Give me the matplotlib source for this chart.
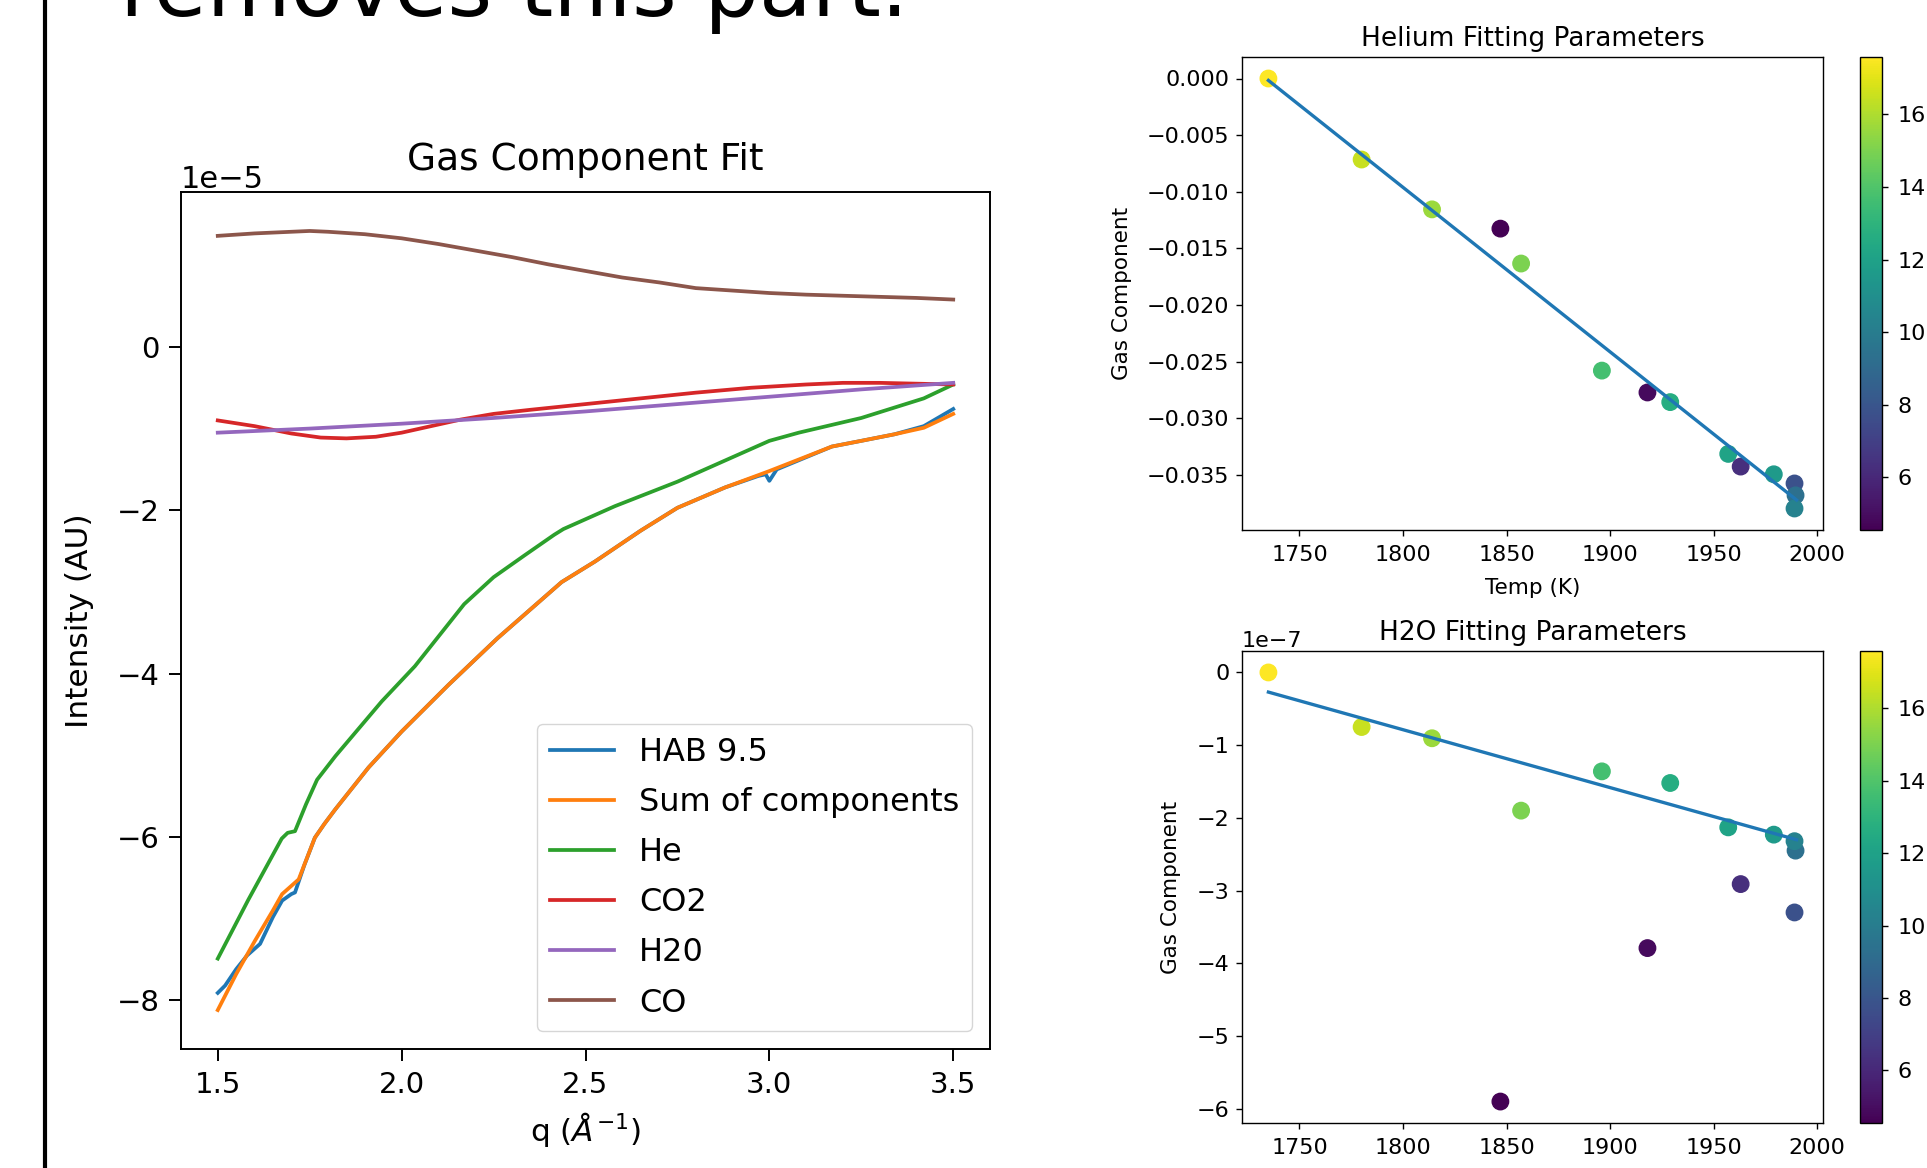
#!/usr/bin/env python3
"""Slide crop: gas component fit plus helium / H2O fitting parameter scatter plots."""

import matplotlib

matplotlib.use("Agg")
import matplotlib.pyplot as plt
from matplotlib.lines import Line2D
from matplotlib.ticker import MultipleLocator
import numpy as np

# Gas component fit, intensities in units of 1e-5
q_hab = [1.50, 1.52, 1.55, 1.58, 1.615, 1.65, 1.675, 1.70, 1.71, 1.735, 1.764, 1.79,
         1.82, 1.91, 2.00, 2.127, 2.26, 2.435, 2.525, 2.65, 2.75, 2.88, 2.97, 2.99,
         3.00, 3.02, 3.17, 3.25, 3.34, 3.42, 3.50]
hab = [-7.91, -7.82, -7.62, -7.45, -7.31, -6.98, -6.78, -6.70, -6.68, -6.35, -6.01, -5.84,
       -5.66, -5.15, -4.71, -4.14, -3.57, -2.88, -2.63, -2.25, -1.97, -1.72, -1.58, -1.56,
       -1.64, -1.50, -1.22, -1.15, -1.07, -0.97, -0.76]

q_sum = [1.50, 1.55, 1.60, 1.65, 1.675, 1.70, 1.72, 1.764, 1.79, 1.82, 1.91, 2.00,
         2.127, 2.26, 2.435, 2.525, 2.65, 2.75, 2.88, 3.00, 3.17, 3.25, 3.34, 3.42, 3.50]
sum_components = [-8.12, -7.68, -7.28, -6.90, -6.70, -6.60, -6.52, -6.01, -5.84, -5.66,
                  -5.15, -4.71, -4.14, -3.57, -2.88, -2.63, -2.25, -1.97, -1.72, -1.52,
                  -1.22, -1.15, -1.07, -0.99, -0.82]

q_he = [1.50, 1.583, 1.674, 1.69, 1.71, 1.74, 1.77, 1.82, 1.946, 2.036, 2.17, 2.25,
        2.335, 2.415, 2.44, 2.58, 2.75, 2.915, 3.00, 3.08, 3.25, 3.42, 3.50]
he = [-7.49, -6.77, -6.02, -5.95, -5.93, -5.60, -5.30, -5.01, -4.34, -3.91, -3.15, -2.82,
      -2.55, -2.30, -2.23, -1.95, -1.65, -1.32, -1.15, -1.05, -0.87, -0.63, -0.46]

q_co2 = [1.50, 1.60, 1.70, 1.78, 1.85, 1.93, 2.00, 2.08, 2.16, 2.25, 2.35, 2.50, 2.65,
         2.80, 2.95, 3.10, 3.20, 3.30, 3.40, 3.50]
co2 = [-0.90, -0.97, -1.06, -1.11, -1.12, -1.10, -1.05, -0.97, -0.89, -0.82, -0.77, -0.70,
       -0.63, -0.56, -0.50, -0.46, -0.44, -0.44, -0.45, -0.46]

q_h2o = [1.50, 1.75, 2.00, 2.25, 2.50, 2.75, 3.00, 3.25, 3.50]
h2o = [-1.05, -1.00, -0.94, -0.87, -0.79, -0.70, -0.61, -0.52, -0.44]

q_co = [1.50, 1.60, 1.70, 1.75, 1.80, 1.90, 2.00, 2.10, 2.20, 2.30, 2.40, 2.50, 2.60,
        2.70, 2.80, 2.90, 3.00, 3.10, 3.25, 3.40, 3.50]
co = [1.36, 1.39, 1.41, 1.42, 1.41, 1.38, 1.33, 1.26, 1.18, 1.10, 1.01, 0.93, 0.85,
      0.79, 0.72, 0.69, 0.66, 0.64, 0.62, 0.60, 0.58]

series_labels = ["HAB 9.5", "Sum of components", "He", "CO2", "H20", "CO"]

# Fitting parameters vs temperature, coloured by the third quantity
temps = [1735, 1780, 1814, 1847, 1857, 1896, 1918, 1929, 1957, 1963, 1979, 1989, 1989.5, 1989]
he_param = [0.0, -0.00715, -0.01155, -0.01325, -0.01633, -0.02578, -0.02771, -0.02856,
            -0.03313, -0.03425, -0.03493, -0.03574, -0.03679, -0.03795]
h2o_param = [0.0, -0.75, -0.905, -5.90, -1.90, -1.36, -3.79, -1.52, -2.13, -2.91, -2.23,
             -3.30, -2.45, -2.32]  # units of 1e-7
point_color = [17.58, 16.5, 15.6, 4.55, 15.0, 13.7, 4.9, 12.6, 12.1, 6.3, 11.6, 7.8, 9.3, 10.3]

# fitted lines (end points)
fit_temps = [1735, 1990]
he_fit = [-0.00017, -0.0372]
h2o_fit = [-0.27, -2.30]  # units of 1e-7

W, H = 1927, 1168
SMALL = 16


def fig_rect(left, top, right, bottom):
    return [left / W, 1 - bottom / H, (right - left) / W, (bottom - top) / H]


def style_small(ax):
    ax.tick_params(labelsize=SMALL, length=4, width=1.0, pad=5)
    ax.yaxis.get_offset_text().set_fontsize(SMALL)
    for s in ax.spines.values():
        s.set_linewidth(1.0)


def add_cbar(sc, rect):
    cax = fig.add_axes(rect)
    cb = fig.colorbar(sc, cax=cax)
    cb.ax.tick_params(labelsize=SMALL, length=4, width=1.0, pad=7)
    cb.outline.set_linewidth(1.0)
    return cb


fig = plt.figure(figsize=(W / 100, H / 100), dpi=100)
fig.patch.set_facecolor("white")

# slide decoration
fig.text(120 / W, 1 - 16 / H, "removes this part.", fontsize=62, va="baseline", ha="left")
fig.add_artist(Line2D([45 / W, 45 / W], [0, 1], transform=fig.transFigure,
                      color="black", lw=3))

# main fit plot
ax = fig.add_axes(fig_rect(181, 192, 990, 1049))
scale = 1e-5
lw = 2.7
ax.plot(q_hab, np.array(hab) * scale, color="tab:blue", lw=lw, label=series_labels[0])
ax.plot(q_sum, np.array(sum_components) * scale, color="tab:orange", lw=lw, label=series_labels[1])
ax.plot(q_he, np.array(he) * scale, color="tab:green", lw=lw, label=series_labels[2])
ax.plot(q_co2, np.array(co2) * scale, color="tab:red", lw=lw, label=series_labels[3])
ax.plot(q_h2o, np.array(h2o) * scale, color="tab:purple", lw=lw, label=series_labels[4])
ax.plot(q_co, np.array(co) * scale, color="tab:brown", lw=lw, label=series_labels[5])
ax.xaxis.set_major_locator(MultipleLocator(0.5))
ax.set_title("Gas Component Fit", fontsize=27, pad=16)
ax.set_xlabel(r"q ($Å^{-1}$)", fontsize=22.5, labelpad=8)
ax.set_ylabel("Intensity (AU)", fontsize=22.5, labelpad=16)
ax.tick_params(labelsize=21, length=8.5, width=1.4, pad=7)
ax.yaxis.get_offset_text().set_fontsize(22)
for s in ax.spines.values():
    s.set_linewidth(1.4)
ax.legend(loc="lower right", fontsize=23, labelspacing=0.6, borderaxespad=0.55)

# helium parameters
ax_he = fig.add_axes(fig_rect(1242, 57, 1823, 530))
sc = ax_he.scatter(temps, he_param, c=point_color, cmap="viridis", s=140)
ax_he.plot(fit_temps, he_fit, color="tab:blue", lw=2.4)
ax_he.set_title("Helium Fitting Parameters", fontsize=19, pad=8)
ax_he.set_xlabel("Temp (K)", fontsize=15.5, labelpad=9)
ax_he.set_ylabel("Gas Component", fontsize=15.5, labelpad=11)
style_small(ax_he)
ax_he.tick_params(axis="x", pad=7)
add_cbar(sc, fig_rect(1860, 57, 1882, 530))

# H2O parameters
ax_w = fig.add_axes(fig_rect(1242, 651, 1823, 1123))
sc2 = ax_w.scatter(temps, np.array(h2o_param) * 1e-7, c=point_color, cmap="viridis", s=140)
ax_w.plot(fit_temps, np.array(h2o_fit) * 1e-7, color="tab:blue", lw=2.4)
ax_w.set_title("H2O Fitting Parameters", fontsize=19, pad=8)
ax_w.set_ylabel("Gas Component", fontsize=15.5, labelpad=11)
style_small(ax_w)
ax_w.tick_params(axis="x", pad=7)
add_cbar(sc2, fig_rect(1860, 651, 1882, 1123))

fig.savefig("out.png", dpi=100)
plt.close(fig)
